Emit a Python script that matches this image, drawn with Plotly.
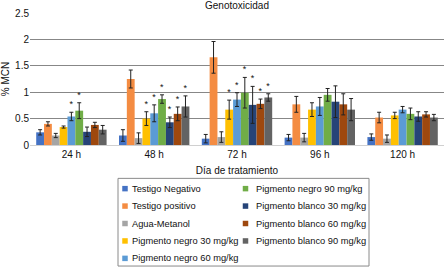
import plotly.graph_objects as go

categories = ["24 h", "48 h", "72 h", "96 h", "120 h"]
series_names = [
    "Testigo Negativo", "Testigo positivo", "Agua-Metanol",
    "Pigmento negro 30 mg/kg", "Pigmento negro 60 mg/kg", "Pigmento negro 90 mg/kg",
    "Pigmento blanco 30 mg/kg", "Pigmento blanco 60 mg/kg", "Pigmento blanco 90 mg/kg",
]
colors = ["#4472C4", "#F48C42", "#A5A5A5", "#FFC000", "#5B9BD5", "#70AD47",
          "#264478", "#9E480E", "#636363"]

testigo_negativo = [0.24, 0.18, 0.12, 0.14, 0.15]
testigo_positivo = [0.40, 1.25, 1.66, 0.77, 0.52]
agua_metanol = [0.18, 0.13, 0.15, 0.14, 0.12]
pn30 = [0.34, 0.50, 0.67, 0.67, 0.56]
pn60 = [0.54, 0.60, 0.86, 0.73, 0.67]
pn90 = [0.65, 0.87, 0.99, 0.95, 0.59]
pb30 = [0.25, 0.43, 0.76, 0.82, 0.54]
pb60 = [0.38, 0.59, 0.78, 0.77, 0.58]
pb90 = [0.29, 0.73, 0.90, 0.67, 0.52]

err_tn = [0.05, 0.11, 0.08, 0.06, 0.06]
err_tp = [0.04, 0.17, 0.30, 0.15, 0.10]
err_am = [0.04, 0.10, 0.10, 0.08, 0.07]
err_pn30 = [0.02, 0.13, 0.18, 0.13, 0.06]
err_pn60 = [0.08, 0.16, 0.13, 0.17, 0.06]
err_pn90 = [0.15, 0.08, 0.29, 0.12, 0.11]
err_pb30 = [0.09, 0.10, 0.35, 0.30, 0.09]
err_pb60 = [0.05, 0.13, 0.09, 0.20, 0.05]
err_pb90 = [0.08, 0.20, 0.07, 0.21, 0.06]

sig_tn = [0, 0, 0, 0, 0]
sig_tp = [0, 0, 0, 0, 0]
sig_am = [0, 0, 0, 0, 0]
sig_pn30 = [0, 1, 1, 0, 0]
sig_pn60 = [1, 1, 1, 0, 0]
sig_pn90 = [1, 1, 1, 0, 0]
sig_pb30 = [0, 1, 1, 0, 0]
sig_pb60 = [0, 1, 1, 0, 0]
sig_pb90 = [0, 1, 1, 0, 0]

values = [testigo_negativo, testigo_positivo, agua_metanol, pn30, pn60, pn90, pb30, pb60, pb90]
errors = [err_tn, err_tp, err_am, err_pn30, err_pn60, err_pn90, err_pb30, err_pb60, err_pb90]
sigs = [sig_tn, sig_tp, sig_am, sig_pn30, sig_pn60, sig_pn90, sig_pb30, sig_pb60, sig_pb90]

FONT = "Liberation Sans, Arial, sans-serif"
W, H = 446, 270
ML, MR, MT, MB = 30, 2, 13, 124.5
PW, PH = W - ML - MR, H - MT - MB

fig = go.Figure()

for i, (name, vals, errs, sig, col) in enumerate(zip(series_names, values, errors, sigs, colors)):
    fig.add_trace(go.Bar(
        x=categories, y=vals, name=name, marker_color=col, marker_line_width=0,
        offsetgroup=str(i), showlegend=False,
        error_y=dict(type="data", array=errs, color="#222222", thickness=1, width=2),
    ))
    # significance stars placed on top of the error bars
    star_base = [v + e if s else None for v, e, s in zip(vals, errs, sig)]
    fig.add_trace(go.Bar(
        x=categories, y=[0.0001 if s else None for s in sig], base=star_base,
        offsetgroup=str(i), showlegend=False, hoverinfo="skip",
        marker_color="rgba(0,0,0,0)", marker_line_width=0,
        text=["*" if s else "" for s in sig], textposition="outside",
        constraintext="none", cliponaxis=False,
        textfont=dict(size=9, color="#111111", family=FONT),
    ))

# ---- legend box (two columns: 5 + 4 entries), drawn in paper coordinates ----
def px_to_paper_x(px):
    return (px - ML) / PW

def px_to_paper_y(py):
    return (MT + PH - py) / PH

box_l, box_r, box_t, box_b = 118, 369, 179, 267
col_sym_x = [125, 245.5]
col_txt_x = [130, 254]
row_y0, row_dy = 189.3, 17.5
sq = 5.5

shapes = [dict(type="rect", xref="paper", yref="paper",
               x0=px_to_paper_x(box_l), x1=px_to_paper_x(box_r),
               y0=px_to_paper_y(box_b), y1=px_to_paper_y(box_t),
               line=dict(color="#8a8a8a", width=1), fillcolor="white", layer="above")]
annotations = []
for k, (name, col) in enumerate(zip(series_names, colors)):
    c, r = (0, k) if k < 5 else (1, k - 5)
    cy = row_y0 + r * row_dy
    cx = col_sym_x[c]
    shapes.append(dict(type="rect", xref="paper", yref="paper",
                       x0=px_to_paper_x(cx - sq / 2), x1=px_to_paper_x(cx + sq / 2),
                       y0=px_to_paper_y(cy + sq / 2), y1=px_to_paper_y(cy - sq / 2),
                       line=dict(width=0), fillcolor=col, layer="above"))
    annotations.append(dict(text=name, xref="paper", yref="paper",
                            x=px_to_paper_x(col_txt_x[c]), y=px_to_paper_y(cy),
                            xanchor="left", yanchor="middle", showarrow=False,
                            font=dict(size=9.3, family=FONT, color="#111111")))

fig.update_layout(
    width=W, height=H,
    margin=dict(l=ML, r=MR, t=MT, b=MB, autoexpand=False),
    paper_bgcolor="white", plot_bgcolor="white",
    font=dict(family=FONT, size=10, color="#111111"),
    barmode="group", bargap=0.15, bargroupgap=0,
    title=dict(text="Genotoxicidad", xref="paper", x=0.5, xanchor="center",
               y=1 - 5.5 / H, yanchor="middle",
               font=dict(size=10, family=FONT, color="#111111")),
    showlegend=False,
    shapes=shapes,
    annotations=annotations,
    xaxis=dict(
        showline=True, linecolor="#d0d0d0", linewidth=1, ticks="", showgrid=False,
        tickfont=dict(size=10, family=FONT),
        title=dict(text="Día de tratamiento", standoff=7, font=dict(size=10, family=FONT)),
    ),
    yaxis=dict(
        range=[0, 2.5], dtick=0.5, showgrid=True, gridcolor="#878787", gridwidth=1,
        zeroline=False, ticks="", tickfont=dict(size=10, family=FONT),
        title=dict(text="% MCN", standoff=6, font=dict(size=10, family=FONT)),
    ),
)

fig.write_html("out.html", config={"displayModeBar": False},
               post_script="document.body.style.margin='0';")
